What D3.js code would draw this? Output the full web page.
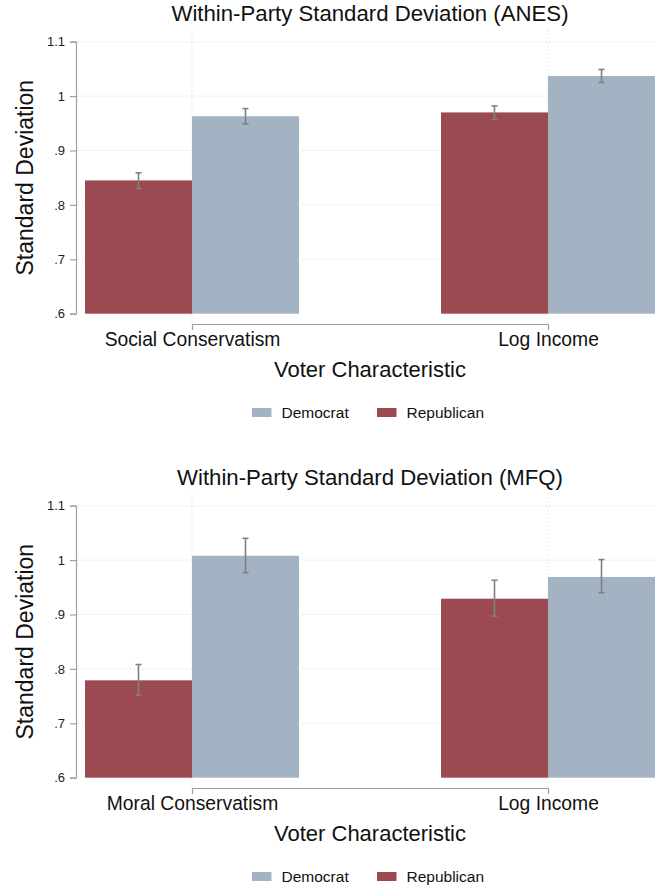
<!DOCTYPE html>
<html>
<head>
<meta charset="utf-8">
<script src="https://cdn.jsdelivr.net/npm/d3@7"></script>
<style>
  html, body { margin: 0; padding: 0; background: #fff; }
  svg { display: block; font-family: "Liberation Sans", Arial, sans-serif; }
</style>
</head>
<body>
<svg id="chart" width="656" height="890"></svg>
<script>
// ---- data ----
const seriesNames = ["Democrat", "Republican"];
const yTickValues = [0.6, 0.7, 0.8, 0.9, 1.0, 1.1];
const yTickLabels = [".6", ".7", ".8", ".9", "1", "1.1"];

const anesTitle = "Within-Party Standard Deviation (ANES)";
const anesCategories = ["Social Conservatism", "Log Income"];
const anesRepublican = [0.845, 0.970];
const anesRepublicanLow = [0.830, 0.957];
const anesRepublicanHigh = [0.859, 0.982];
const anesDemocrat = [0.963, 1.037];
const anesDemocratLow = [0.949, 1.025];
const anesDemocratHigh = [0.977, 1.049];

const mfqTitle = "Within-Party Standard Deviation (MFQ)";
const mfqCategories = ["Moral Conservatism", "Log Income"];
const mfqRepublican = [0.779, 0.929];
const mfqRepublicanLow = [0.752, 0.897];
const mfqRepublicanHigh = [0.808, 0.963];
const mfqDemocrat = [1.008, 0.969];
const mfqDemocratLow = [0.977, 0.940];
const mfqDemocratHigh = [1.040, 1.001];

const colors = { Democrat: "#a3b3c4", Republican: "#9a4a50" };

const svg = d3.select("#chart");

function drawPanel(offset, title, categories, rep, repLo, repHi, dem, demLo, demHi) {
  const g = svg.append("g").attr("transform", `translate(0,${offset})`);
  const axisX = 76, plotRight = 656;
  const y = d3.scaleLinear().domain([0.6, 1.1]).range([313.7, 41.7]);
  const x = d3.scalePoint().domain(categories).range([192, 548]);
  const inner = d3.scaleBand().domain(["Republican", "Democrat"]).range([-107, 107]).padding(0);

  // horizontal grid
  g.selectAll(".hgrid").data(yTickValues.slice(1)).enter().append("line")
    .attr("x1", axisX + 2).attr("x2", plotRight)
    .attr("y1", d => y(d)).attr("y2", d => y(d))
    .attr("stroke", "#cfcfcf").attr("stroke-width", 1)
    .attr("stroke-dasharray", "1,3");
  // vertical grid at category centres
  g.selectAll(".vgrid").data(categories).enter().append("line")
    .attr("x1", d => x(d)).attr("x2", d => x(d))
    .attr("y1", 30).attr("y2", 323)
    .attr("stroke", "#cfcfcf").attr("stroke-width", 1)
    .attr("stroke-dasharray", "1,3");

  const rows = categories.map((c, i) => ([
    { cat: c, s: "Republican", v: rep[i], lo: repLo[i], hi: repHi[i] },
    { cat: c, s: "Democrat", v: dem[i], lo: demLo[i], hi: demHi[i] }
  ])).flat();

  // bars
  g.selectAll(".bar").data(rows).enter().append("rect")
    .attr("x", d => x(d.cat) + inner(d.s))
    .attr("width", inner.bandwidth())
    .attr("y", d => y(d.v))
    .attr("height", d => y(0.6) - y(d.v))
    .attr("fill", d => colors[d.s]);

  // error bars
  const eb = g.selectAll(".eb").data(rows).enter().append("g")
    .attr("stroke", "#808080").attr("stroke-width", 1.6);
  eb.append("line")
    .attr("x1", d => x(d.cat) + inner(d.s) + inner.bandwidth() / 2)
    .attr("x2", d => x(d.cat) + inner(d.s) + inner.bandwidth() / 2)
    .attr("y1", d => y(d.lo)).attr("y2", d => y(d.hi));
  [ "lo", "hi" ].forEach(k => {
    eb.append("line")
      .attr("x1", d => x(d.cat) + inner(d.s) + inner.bandwidth() / 2 - 3)
      .attr("x2", d => x(d.cat) + inner(d.s) + inner.bandwidth() / 2 + 3)
      .attr("y1", d => y(d[k])).attr("y2", d => y(d[k]));
  });

  // y axis
  const yAxis = d3.axisLeft(y).tickValues(yTickValues)
    .tickFormat((d, i) => yTickLabels[i]).tickSize(6).tickPadding(5);
  const ya = g.append("g").attr("transform", `translate(${axisX},0)`).call(yAxis);
  ya.select(".domain").attr("stroke", "#a0a0a0").attr("stroke-width", 1.2);
  ya.selectAll(".tick line").attr("stroke", "#a0a0a0").attr("stroke-width", 1.2);
  ya.selectAll(".tick text").attr("font-size", 13).attr("fill", "#222")
    .attr("font-family", "'Liberation Sans', Arial, sans-serif");

  // x axis (bracket between category centres)
  const xAxis = d3.axisBottom(x).tickSize(6).tickSizeOuter(0).tickPadding(5).tickFormat(d => d);
  const xa = g.append("g").attr("transform", `translate(0,324)`).call(xAxis);
  xa.select(".domain").attr("stroke", "#a0a0a0").attr("stroke-width", 1.2);
  xa.selectAll(".tick line").attr("stroke", "#a0a0a0").attr("stroke-width", 1.2);
  xa.selectAll(".tick text").attr("font-size", 19.3).attr("fill", "#111")
    .attr("dy", null).attr("y", 22)
    .attr("font-family", "'Liberation Sans', Arial, sans-serif");

  // titles
  g.append("text").attr("x", 370).attr("y", 21).attr("text-anchor", "middle")
    .attr("font-size", 22.2).attr("fill", "#111").text(title);
  g.append("text").attr("x", 370).attr("y", 377).attr("text-anchor", "middle")
    .attr("font-size", 22).attr("fill", "#111").text("Voter Characteristic");
  g.append("text").attr("transform", `translate(32.5,${(y(0.6) + y(1.1)) / 2}) rotate(-90)`)
    .attr("text-anchor", "middle").attr("font-size", 23).attr("fill", "#111")
    .text("Standard Deviation");

  // legend
  const legendX = [252, 377];
  const lg = g.selectAll(".lg").data(seriesNames).enter().append("g")
    .attr("transform", (d, i) => `translate(${legendX[i]},408)`);
  lg.append("rect").attr("width", 19.5).attr("height", 9).attr("fill", d => colors[d]);
  lg.append("text").attr("x", 29.5).attr("y", 10).attr("font-size", 15.5)
    .attr("fill", "#111").text(d => d);
}

drawPanel(0, anesTitle, anesCategories, anesRepublican, anesRepublicanLow, anesRepublicanHigh,
          anesDemocrat, anesDemocratLow, anesDemocratHigh);
drawPanel(464, mfqTitle, mfqCategories, mfqRepublican, mfqRepublicanLow, mfqRepublicanHigh,
          mfqDemocrat, mfqDemocratLow, mfqDemocratHigh);
</script>
</body>
</html>
